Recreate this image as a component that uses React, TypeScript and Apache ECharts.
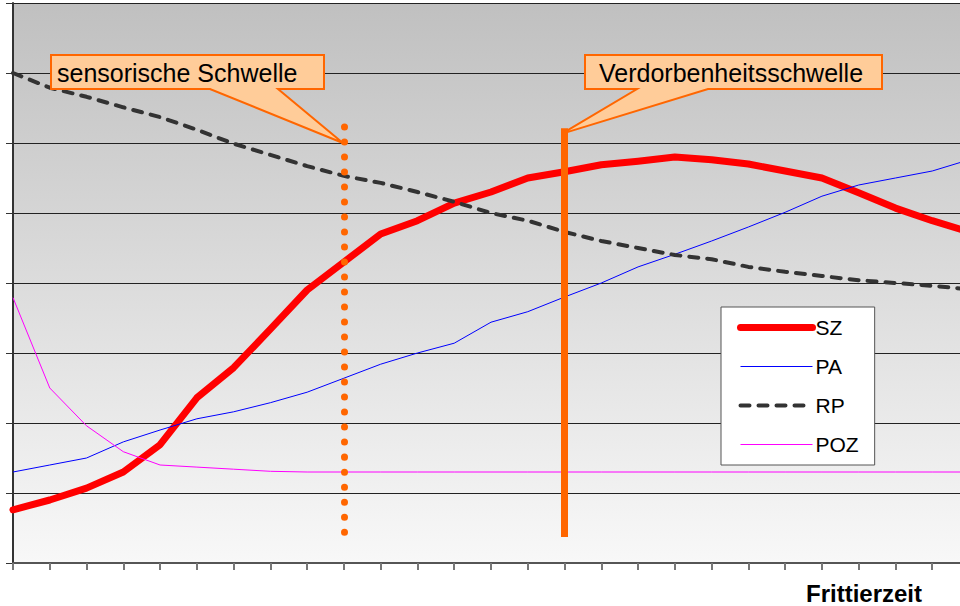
import React, { useEffect, useRef } from "react";
import * as echarts from "echarts";

// ---- data ----
const categories = [
  "1", "2", "3", "4", "5", "6", "7", "8", "9", "10", "11", "12", "13", "14",
  "15", "16", "17", "18", "19", "20", "21", "22", "23", "24", "25", "26", "27",
];
const szValues = [
  0.76, 0.9, 1.07, 1.3, 1.69, 2.36, 2.79, 3.34, 3.9, 4.3, 4.7, 4.89, 5.14, 5.3,
  5.5, 5.59, 5.69, 5.74, 5.8, 5.76, 5.7, 5.6, 5.5, 5.29, 5.07, 4.89, 4.73,
];
const paValues = [
  1.3, 1.4, 1.5, 1.73, 1.9, 2.06, 2.16, 2.29, 2.44, 2.64, 2.84, 3.0, 3.14, 3.44,
  3.59, 3.8, 4.0, 4.23, 4.41, 4.6, 4.8, 5.01, 5.24, 5.4, 5.5, 5.6, 5.76,
];
const rpValues = [
  7.0, 6.79, 6.66, 6.51, 6.37, 6.19, 5.99, 5.83, 5.67, 5.53, 5.43, 5.3, 5.16, 5.0,
  4.89, 4.73, 4.6, 4.5, 4.4, 4.34, 4.23, 4.16, 4.1, 4.04, 4.0, 3.96, 3.91,
];
const pozValues = [
  3.79, 2.5, 1.96, 1.59, 1.4, 1.37, 1.34, 1.31, 1.3, 1.3, 1.3, 1.3, 1.3, 1.3,
  1.3, 1.3, 1.3, 1.3, 1.3, 1.3, 1.3, 1.3, 1.3, 1.3, 1.3, 1.3, 1.3,
];
const seriesNames = ["SZ", "PA", "RP", "POZ"];
const axisTitle = "Frittierzeit";

// thresholds (annotations)
const thresholdLabels = ["sensorische Schwelle", "Verdorbenheitsschwelle"];
const thresholdCategory = ["10", "16"];
const thresholdFrom = [0.4, 0.37];
const thresholdTo = [6.23, 6.21];
const calloutTipValue = [6.0, 6.13];

const ORANGE = "#ff6600";
const FONT = "'Liberation Sans', Arial, sans-serif";

const lineStyles: any[] = [
  { color: "#ff0000", width: 7, cap: "round", join: "round" },
  { color: "#0000ff", width: 1 },
  { color: "#333333", width: 4, type: [9, 9], cap: "round" },
  { color: "#ff00ff", width: 1 },
];

export default function App() {
  const ref = useRef<HTMLDivElement>(null);

  useEffect(() => {
    if (!ref.current) return;
    const chart = echarts.init(ref.current, undefined, { renderer: "svg" });

    const seriesData = [szValues, paValues, rpValues, pozValues];

    const series: any[] = seriesNames.map((name, i) => ({
      name,
      type: "line",
      data: seriesData[i],
      symbol: "none",
      color: lineStyles[i].color,
      lineStyle: lineStyles[i],
      z: 2 + i,
    }));
    series[3].markLine = {
      silent: true,
      symbol: ["none", "none"],
      label: { show: false },
      z: 10,
      data: [
        [
          {
            coord: [thresholdCategory[0], thresholdTo[0]],
            lineStyle: { color: ORANGE, width: 7, type: [0.01, 15], cap: "round" },
          },
          { coord: [thresholdCategory[0], thresholdFrom[0]] },
        ],
        [
          {
            coord: [thresholdCategory[1], thresholdTo[1]],
            lineStyle: { color: ORANGE, width: 7, type: "solid", cap: "butt" },
          },
          { coord: [thresholdCategory[1], thresholdFrom[1]] },
        ],
      ],
    };

    const option: any = {
      animation: false,
      grid: {
        left: 13,
        top: 3,
        right: -9,
        bottom: 43,
        outerBoundsMode: "none",
        containLabel: false,
        show: true,
        borderWidth: 0,
        backgroundColor: new echarts.graphic.LinearGradient(0, 0, 0, 1, [
          { offset: 0, color: "#c0c0c0" },
          { offset: 1, color: "#f8f8f8" },
        ]),
      },
      legend: {
        orient: "vertical",
        left: 721,
        top: 307,
        padding: [10, 16, 10, 16],
        itemGap: 18,
        itemWidth: 72,
        itemHeight: 21,
        backgroundColor: "#ffffff",
        borderColor: "#555555",
        borderWidth: 1,
        borderRadius: 0,
        selectedMode: false,
        itemStyle: { opacity: 0 },
        textStyle: { fontSize: 21, lineHeight: 21, color: "#000", fontFamily: FONT, padding: [0, 0, 0, -2] },
        data: seriesNames.map((name, i) => ({
          name,
          itemStyle: { opacity: 0, borderWidth: 0 },
          lineStyle: { ...lineStyles[i] },
        })),
      },
      xAxis: {
        type: "category",
        data: categories,
        boundaryGap: false,
        axisLabel: { show: false },
        axisLine: { lineStyle: { color: "#555", width: 2 } },
        axisTick: { show: true, interval: 0, length: 7, lineStyle: { color: "#777", width: 2 } },
        splitLine: { show: false },
      },
      yAxis: {
        type: "value",
        min: 0,
        max: 8,
        interval: 1,
        axisLabel: { show: false },
        axisLine: { show: true, lineStyle: { color: "#333", width: 2 } },
        axisTick: { show: true, length: 7, lineStyle: { color: "#333", width: 1 } },
        splitLine: { show: true, lineStyle: { color: "#222", width: 1 } },
      },
      series,
    };
    chart.setOption(option);

    // callout layout (boxes are layout; tips are computed from the threshold data)
    const boxes = [
      { x: 51, y: 55, w: 273, h: 34, baseL: 210, baseR: 278, textX: 57, tipDx: -1 },
      { x: 585, y: 55, w: 297, h: 34, baseL: 637, baseR: 708, textX: 599, tipDx: -3 },
    ];
    const graphics: any[] = [];
    boxes.forEach((b, i) => {
      const tip = chart.convertToPixel({ xAxisIndex: 0, yAxisIndex: 0 }, [
        thresholdCategory[i],
        calloutTipValue[i],
      ]) as number[];
      const tx = tip[0] + b.tipDx;
      const ty = tip[1];
      graphics.push({
        type: "polygon",
        z: 100,
        shape: {
          points: [
            [b.x, b.y],
            [b.x + b.w, b.y],
            [b.x + b.w, b.y + b.h],
            [b.baseR, b.y + b.h],
            [tx, ty],
            [b.baseL, b.y + b.h],
            [b.x, b.y + b.h],
          ],
        },
        style: { fill: "#ffcc99", stroke: ORANGE, lineWidth: 2, lineJoin: "miter" },
      });
      graphics.push({
        type: "text",
        z: 101,
        x: b.textX,
        y: b.y + b.h / 2 + 1,
        style: {
          text: thresholdLabels[i],
          fontSize: 25,
          fontFamily: FONT,
          fill: "#000",
          verticalAlign: "middle",
          align: "left",
        },
      });
    });
    graphics.push({
      type: "text",
      z: 101,
      x: 806,
      y: 593,
      style: {
        text: axisTitle,
        fontSize: 24,
        fontWeight: "bold",
        fontFamily: FONT,
        fill: "#000",
        verticalAlign: "middle",
        align: "left",
      },
    });
    chart.setOption({ graphic: graphics });

    return () => chart.dispose();
  }, []);

  return (
    <div
      ref={ref}
      style={{ position: "fixed", left: 0, top: 0, width: 960, height: 606, background: "#fff" }}
    />
  );
}
